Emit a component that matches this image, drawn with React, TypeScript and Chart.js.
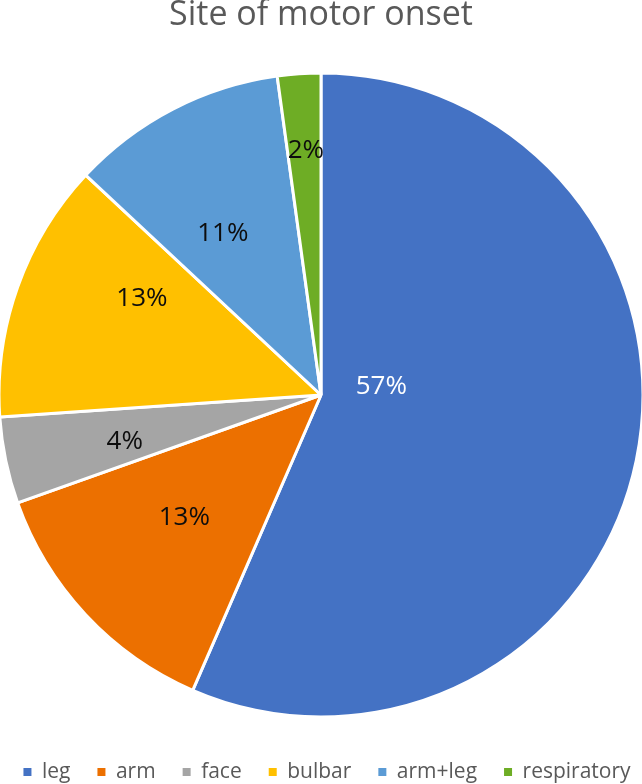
import React, { useEffect, useRef } from 'react';
import { Chart, registerables } from 'chart.js';

Chart.register(...registerables);

const categories = ['leg', 'arm', 'face', 'bulbar', 'arm+leg', 'respiratory'];
const counts = [26, 6, 2, 6, 5, 1];
const percentLabels = ['57%', '13%', '4%', '13%', '11%', '2%'];
const sliceColors = ['#4472C4', '#EC7000', '#A5A5A5', '#FFC000', '#5B9BD5', '#6EAD25'];
const labelColors = ['#FFFFFF', '#0D0D0D', '#0D0D0D', '#0D0D0D', '#0D0D0D', '#0D0D0D'];
// label placement: fraction of radius, and angular shift (degrees) from slice middle
const labelRadius = [0.19, 0.567, 0.625, 0.634, 0.592, 0.767];
const labelAngleShift = [-21.5, 1.5, -1, 9.1, -3.6, 0.4];

const FONT = '"Open Sans", Lato, sans-serif';
const LABEL_SIZE = 26;
const LEGEND_SHIFT_X = 6;

const sliceLabelPlugin = {
  id: 'sliceLabels',
  afterLayout(chart: any) {
    if (chart.legend) {
      chart.legend.left += LEGEND_SHIFT_X;
      chart.legend.right += LEGEND_SHIFT_X;
    }
  },
  afterDatasetsDraw(chart: any) {
    const ctx = chart.ctx;
    const meta = chart.getDatasetMeta(0);
    meta.data.forEach((arc: any, i: number) => {
      const p = arc.getProps(['x', 'y', 'startAngle', 'endAngle', 'outerRadius'], true);
      const a = (p.startAngle + p.endAngle) / 2 + (labelAngleShift[i] * Math.PI) / 180;
      const r = p.outerRadius * labelRadius[i];
      const cx = p.x + Math.cos(a) * r;
      const cy = p.y + Math.sin(a) * r;
      ctx.save();
      ctx.font = `${LABEL_SIZE}px ${FONT}`;
      ctx.fillStyle = labelColors[i];
      ctx.textAlign = 'center';
      ctx.textBaseline = 'alphabetic';
      ctx.fillText(percentLabels[i], cx, cy + LABEL_SIZE * 0.357);
      ctx.restore();
    });
  },
};

export default function App() {
  const canvasRef = useRef<HTMLCanvasElement | null>(null);

  useEffect(() => {
    const canvas = canvasRef.current;
    if (!canvas) return;
    const defaultGen = (Chart as any).overrides.pie.plugins.legend.labels.generateLabels;
    const chart = new Chart(canvas, {
      type: 'pie',
      data: {
        labels: categories,
        datasets: [
          {
            data: counts,
            backgroundColor: sliceColors,
            borderColor: '#FFFFFF',
            borderWidth: 3,
          },
        ],
      },
      options: {
        responsive: false,
        animation: false,
        events: [],
        radius: 322,
        layout: { padding: { top: -4.7, bottom: -8.5, left: -30, right: -30 } },
        plugins: {
          tooltip: { enabled: false },
          title: {
            display: true,
            text: 'Site of motor onset',
            color: '#595959',
            font: { family: FONT, size: 34, weight: 'normal', lineHeight: 1.2 },
            padding: { top: 0, bottom: 19.4 },
          },
          legend: {
            display: true,
            position: 'bottom',
            labels: {
              boxWidth: 8,
              boxHeight: 8,
              padding: 27,
              color: '#595959',
              font: { family: FONT, size: 21 },
              generateLabels: (c: any) =>
                defaultGen(c).map((item: any) => ({ ...item, lineWidth: 0, strokeStyle: 'rgba(0,0,0,0)' })),
            },
          },
        },
      } as any,
      plugins: [sliceLabelPlugin],
    });
    return () => chart.destroy();
  }, []);

  return (
    <div style={{ position: 'absolute', left: 0, top: 0, width: 642, height: 784, background: '#FFFFFF' }}>
      <canvas ref={canvasRef} width={642} height={784} style={{ display: 'block' }} />
    </div>
  );
}
